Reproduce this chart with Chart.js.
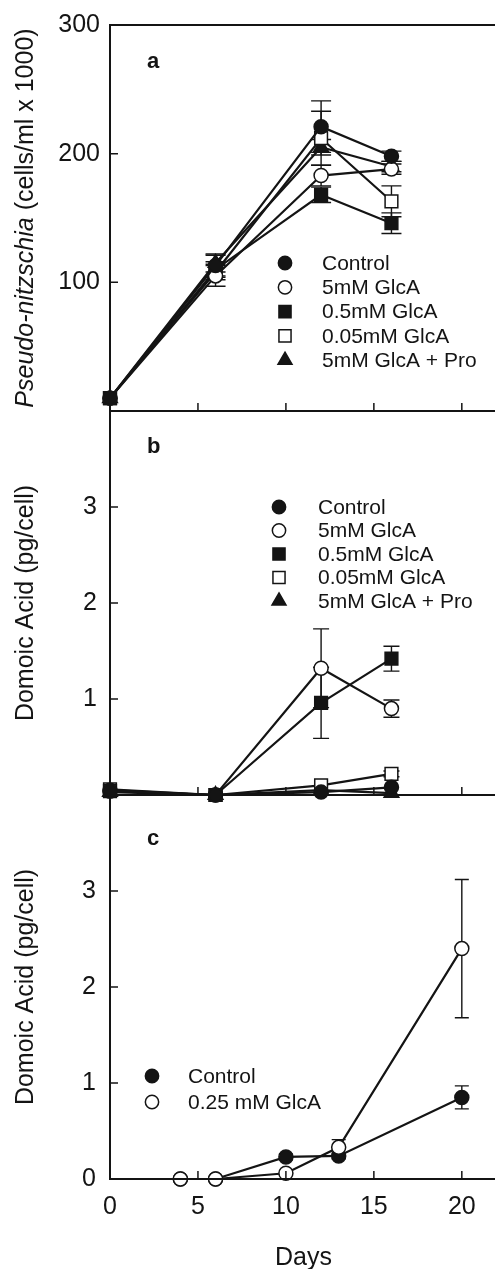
<!DOCTYPE html>
<html>
<head>
<meta charset="utf-8">
<script src="https://cdn.jsdelivr.net/npm/chart.js@4.4.1/dist/chart.umd.min.js"></script>
<style>
html,body{margin:0;padding:0;background:#fff;overflow:hidden;width:495px;height:1269px;}
canvas.p{position:absolute;left:0;top:0;}
</style>
</head>
<body>
<canvas id="ca" class="p" width="520" height="1269"></canvas>
<canvas id="cb" class="p" width="520" height="1269"></canvas>
<canvas id="cc" class="p" width="520" height="1269"></canvas>
<script>
// ---------- data ----------
const xTicks = [0, 5, 10, 15, 20];
const aYTicks = [100, 200, 300];
const bYTicks = [1, 2, 3];
const cYTicks = [0, 1, 2, 3];

const seriesNames = ['Control', '5mM GlcA', '0.5mM GlcA', '0.05mM GlcA', '5mM GlcA + Pro'];
const seriesNamesC = ['Control', '0.25 mM GlcA'];

// panel a: Pseudo-nitzschia (cells/ml x 1000)
const daysAB = [0, 6, 12, 16];
const aControl = [10, 113, 221, 198];
const aControlErr = [0, 8, 20, 4];
const aGlcA5 = [10, 105, 183, 188];
const aGlcA5Err = [0, 8, 8, 4];
const aGlcA05 = [10, 110, 168, 146];
const aGlcA05Err = [0, 6, 6, 8];
const aGlcA005 = [10, 108, 212, 163];
const aGlcA005Err = [0, 6, 21, 12];
const aPro = [10, 115, 205, 190];
const aProErr = [0, 7, 6, 4];

// panel b: Domoic Acid (pg/cell)
const bControl = [0.04, 0, 0.03, 0.08];
const bControlErr = [0, 0, 0, 0];
const bGlcA5 = [0.05, 0, 1.32, 0.90];
const bGlcA5Err = [0, 0, 0.41, 0.09];
const bGlcA05 = [0.04, 0, 0.96, 1.42];
const bGlcA05Err = [0, 0, 0.37, 0.13];
const bGlcA005 = [0.06, 0, 0.10, 0.22];
const bGlcA005Err = [0, 0, 0, 0.03];
const bPro = [0.03, 0, 0.05, 0.02];
const bProErr = [0, 0, 0, 0];

// panel c: Domoic Acid (pg/cell)
const daysC = [4, 6, 10, 13, 20];
const cControl = [0, 0, 0.23, 0.24, 0.85];
const cControlErr = [0, 0, 0.03, 0.03, 0.12];
const cGlcA25 = [0, 0, 0.06, 0.33, 2.40];
const cGlcA25Err = [0, 0, 0, 0.08, 0.72];

// ---------- styles ----------
const INK = '#141414';
const FONT = '"Liberation Sans", Arial, Helvetica, sans-serif';
const markerStyles = [
  {pointStyle: 'circle', fill: INK, r: 7},
  {pointStyle: 'circle', fill: '#ffffff', r: 7},
  {pointStyle: 'rect', fill: INK, r: 9},
  {pointStyle: 'rect', fill: '#ffffff', r: 9},
  {pointStyle: 'triangle', fill: INK, r: 8.5}
];

function pts(xs, ys) { return xs.map((x, i) => ({x: x, y: ys[i]})); }

function makeDataset(label, xs, ys, errs, st, order) {
  return {
    label: label,
    data: pts(xs, ys),
    errors: errs,
    borderColor: INK,
    borderWidth: 2.2,
    pointStyle: st.pointStyle,
    pointRadius: st.r,
    pointBackgroundColor: st.fill,
    pointBorderColor: INK,
    pointBorderWidth: 1.5,
    tension: 0,
    fill: false,
    clip: false,
    order: order
  };
}

function drawMarker(ctx, style, x, y, r, fill) {
  ctx.save();
  ctx.beginPath();
  if (style === 'circle') {
    ctx.arc(x, y, r, 0, Math.PI * 2);
  } else if (style === 'rect') {
    const s = r * Math.SQRT1_2;
    ctx.rect(x - s, y - s, 2 * s, 2 * s);
  } else {
    for (let k = 0; k < 3; k++) {
      const a = k * 2 * Math.PI / 3;
      const px = x + Math.sin(a) * r, py = y - Math.cos(a) * r;
      if (k === 0) ctx.moveTo(px, py); else ctx.lineTo(px, py);
    }
    ctx.closePath();
  }
  ctx.fillStyle = fill;
  ctx.fill();
  ctx.lineWidth = 1.5;
  ctx.strokeStyle = INK;
  ctx.stroke();
  ctx.restore();
}

const panelPlugin = {
  id: 'panel',
  beforeDatasetsDraw(chart, args, opts) {
    const ctx = chart.ctx, xs = chart.scales.x, ys = chart.scales.y;
    ctx.save();
    ctx.strokeStyle = INK;
    ctx.lineWidth = 1.4;
    chart.data.datasets.forEach(ds => {
      ds.data.forEach((p, j) => {
        const e = ds.errors ? ds.errors[j] : 0;
        if (!e) return;
        const px = xs.getPixelForValue(p.x);
        const y1 = ys.getPixelForValue(p.y + e);
        const y2 = ys.getPixelForValue(p.y - e);
        const cw = opts.capHalf;
        ctx.beginPath();
        ctx.moveTo(px, y1); ctx.lineTo(px, y2);
        ctx.moveTo(px - cw, y1); ctx.lineTo(px + cw, y1);
        ctx.moveTo(px - cw, y2); ctx.lineTo(px + cw, y2);
        ctx.stroke();
      });
    });
    ctx.restore();
  },
  afterDraw(chart, args, opts) {
    const ctx = chart.ctx, ca = chart.chartArea;
    const xs = chart.scales.x, ys = chart.scales.y;
    ctx.save();
    // frame
    ctx.strokeStyle = INK;
    ctx.lineWidth = 2;
    ctx.strokeRect(ca.left, ca.top, ca.right - ca.left, ca.bottom - ca.top);
    // inside ticks
    ctx.lineWidth = 1.5;
    ctx.beginPath();
    xTicks.forEach(v => {
      if (v === 0) return;
      const px = xs.getPixelForValue(v);
      ctx.moveTo(px, ca.bottom); ctx.lineTo(px, ca.bottom - 8);
    });
    opts.yTicks.forEach(v => {
      const py = ys.getPixelForValue(v);
      ctx.moveTo(ca.left, py); ctx.lineTo(ca.left + 8, py);
    });
    ctx.stroke();
    // panel letter
    ctx.fillStyle = INK;
    ctx.font = 'bold 22px ' + FONT;
    ctx.textBaseline = 'alphabetic';
    ctx.textAlign = 'left';
    ctx.fillText(opts.letter, 147, opts.letterY);
    // legend
    const lg = opts.legend;
    ctx.font = '21px ' + FONT;
    ctx.textBaseline = 'middle';
    chart.data.datasets.forEach((ds, i) => {
      const y = lg.y + i * lg.dy;
      drawMarker(ctx, ds.pointStyle, lg.mx, y, ds.pointRadius * 0.95, ds.pointBackgroundColor);
      ctx.fillStyle = INK;
      ctx.fillText(lg.labels[i], lg.tx, y + 1);
    });
    // mixed-style y title (panel a)
    if (opts.mixedTitle) {
      const mt = opts.mixedTitle;
      ctx.save();
      ctx.translate(mt.x, (ca.top + ca.bottom) / 2);
      ctx.rotate(-Math.PI / 2);
      ctx.textBaseline = 'middle';
      ctx.textAlign = 'left';
      ctx.fillStyle = INK;
      const f1 = 'italic 25px ' + FONT, f2 = '25px ' + FONT;
      ctx.font = f1; const w1 = ctx.measureText(mt.italic).width;
      ctx.font = f2; const w2 = ctx.measureText(mt.normal).width;
      const x0 = -(w1 + w2) / 2;
      ctx.font = f1; ctx.fillText(mt.italic, x0, 0);
      ctx.font = f2; ctx.fillText(mt.normal, x0 + w1, 0);
      ctx.restore();
    }
    ctx.restore();
  }
};

Chart.defaults.color = INK;
Chart.defaults.font.family = FONT;

function makeChart(id, cfg) {
  return new Chart(document.getElementById(id), {
    type: 'line',
    data: {datasets: cfg.datasets},
    options: {
      responsive: false,
      animation: false,
      devicePixelRatio: 1,
      events: [],
      layout: {padding: {top: cfg.top, bottom: cfg.padBottom, left: 0, right: 23}},
      plugins: {legend: {display: false}, tooltip: {enabled: false}, panel: cfg.panel},
      scales: {
        x: {
          type: 'linear', min: 0, max: 22,
          grid: {display: false, drawTicks: false},
          border: {display: false},
          afterBuildTicks: s => { s.ticks = xTicks.map(v => ({value: v})); },
          afterFit: s => { s.height = cfg.xHeight; },
          ticks: {display: cfg.showX, autoSkip: false, maxRotation: 0, padding: 13, font: {size: 25}, color: INK},
          title: {display: cfg.showX, text: 'Days', font: {size: 25}, color: INK, padding: {top: 0, bottom: -4}}
        },
        y: {
          type: 'linear', min: 0, max: cfg.ymax,
          grid: {display: false, drawTicks: false},
          border: {display: false},
          afterBuildTicks: s => { s.ticks = cfg.yTicks.map(v => ({value: v})); },
          afterFit: s => { s.width = 110; },
          ticks: {padding: cfg.yPad, font: {size: 25}, color: INK},
          title: {display: !!cfg.yTitle, text: cfg.yTitle || '', font: {size: 25}, color: INK, padding: {top: 11, bottom: 0}}
        }
      }
    },
    plugins: [panelPlugin]
  });
}

// panel a
makeChart('ca', {
  top: 24, padBottom: 1269 - 411, xHeight: 0, showX: false, ymax: 300, yTicks: aYTicks, yPad: 10,
  datasets: [
    makeDataset(seriesNames[0], daysAB, aControl, aControlErr, markerStyles[0], 0),
    makeDataset(seriesNames[1], daysAB, aGlcA5, aGlcA5Err, markerStyles[1], 1),
    makeDataset(seriesNames[2], daysAB, aGlcA05, aGlcA05Err, markerStyles[2], 2),
    makeDataset(seriesNames[3], daysAB, aGlcA005, aGlcA005Err, markerStyles[3], 3),
    makeDataset(seriesNames[4], daysAB, aPro, aProErr, markerStyles[4], 4)
  ],
  panel: {
    letter: 'a', letterY: 68, yTicks: aYTicks, capHalf: 10,
    legend: {mx: 285, tx: 322, y: 263, dy: 24.3, labels: seriesNames},
    mixedTitle: {x: 26, italic: 'Pseudo-nitzschia', normal: ' (cells/ml x 1000)'}
  }
});

// panel b
makeChart('cb', {
  top: 411, padBottom: 1269 - 795, xHeight: 0, showX: false, ymax: 4, yTicks: bYTicks, yPad: 13,
  yTitle: 'Domoic Acid (pg/cell)',
  datasets: [
    makeDataset(seriesNames[0], daysAB, bControl, bControlErr, markerStyles[0], 0),
    makeDataset(seriesNames[1], daysAB, bGlcA5, bGlcA5Err, markerStyles[1], 1),
    makeDataset(seriesNames[2], daysAB, bGlcA05, bGlcA05Err, markerStyles[2], 2),
    makeDataset(seriesNames[3], daysAB, bGlcA005, bGlcA005Err, markerStyles[3], 3),
    makeDataset(seriesNames[4], daysAB, bPro, bProErr, markerStyles[4], 4)
  ],
  panel: {
    letter: 'b', letterY: 453, yTicks: bYTicks, capHalf: 8,
    legend: {mx: 279, tx: 318, y: 507, dy: 23.5, labels: seriesNames}
  }
});

// panel c
makeChart('cc', {
  top: 795, padBottom: 0, xHeight: 90, showX: true, ymax: 4, yTicks: cYTicks, yPad: 14,
  yTitle: 'Domoic Acid (pg/cell)',
  datasets: [
    makeDataset(seriesNamesC[0], daysC, cControl, cControlErr, markerStyles[0], 1),
    makeDataset(seriesNamesC[1], daysC, cGlcA25, cGlcA25Err, markerStyles[1], 0)
  ],
  panel: {
    letter: 'c', letterY: 845, yTicks: cYTicks, capHalf: 7,
    legend: {mx: 152, tx: 188, y: 1076, dy: 26, labels: seriesNamesC}
  }
});
</script>
</body>
</html>
